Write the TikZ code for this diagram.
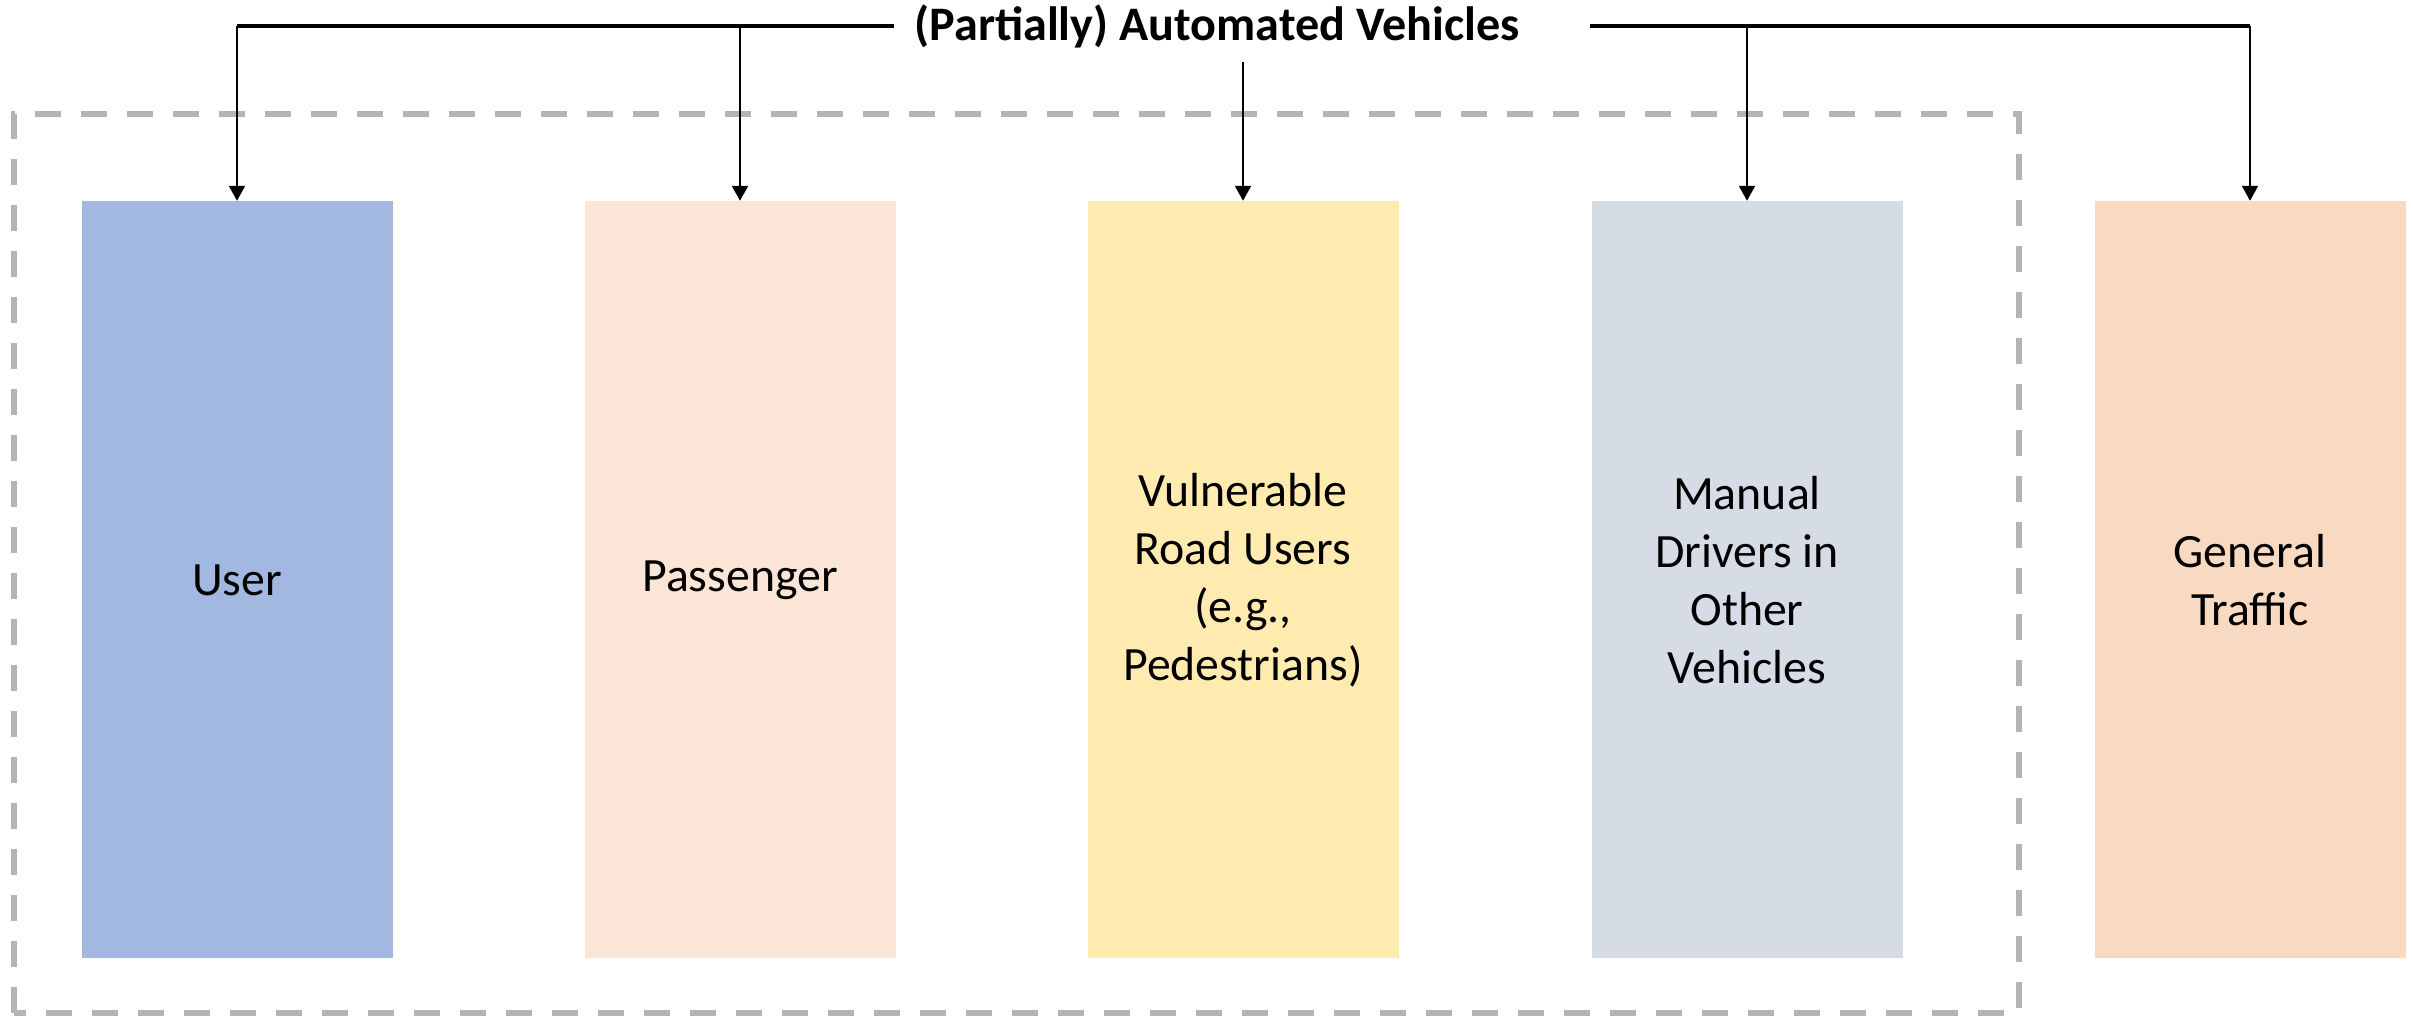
\documentclass[tikz,border=0pt]{standalone}
\usepackage{fontspec}
\setmainfont{Carlito}
\definecolor{userblue}{HTML}{A2B8E0}
\definecolor{passpeach}{HTML}{FBE5D6}
\definecolor{vruyellow}{HTML}{FFEBB0}
\definecolor{manualgray}{HTML}{D6DCE5}
\definecolor{trafficpeach}{HTML}{F8D9C2}
\definecolor{dashgray}{HTML}{B4B4B4}
\usetikzlibrary{arrows.meta, positioning, calc}

\begin{document}
\begin{tikzpicture}[
  actor/.style={minimum width=3.11cm, minimum height=7.57cm, align=center, inner sep=0pt, font=\fontsize{13.6}{16.5}\selectfont},
  hline/.style={line width=0.9pt},
  feed/.style={line width=0.6pt, -{Triangle[length=1.5mm, width=1.6mm]}}
]
  \useasboundingbox (0,0) rectangle (24.13,10.17);

  % dashed frame round the four directly addressed groups
  \draw[dashgray, line width=1.7pt, dash pattern=on 0.26cm off 0.2cm] (0.14,0.04) rectangle (20.19,9.03);

  \node[actor, fill=userblue] (user) at (2.37, 4.37) {User};
  \node[actor, fill=passpeach] (passenger) at (7.40, 4.37) {Passenger};
  \node[actor, fill=vruyellow] (vru) at (12.43, 4.37) {Vulnerable\\Road Users\\(e.g.,\\Pedestrians)};
  \node[actor, fill=manualgray] (manual) at (17.47, 4.37) {Manual\\Drivers in\\Other\\Vehicles};
  \node[actor, fill=trafficpeach] (traffic) at (22.50, 4.37) {General\\Traffic};

  \node[font=\fontsize{13.7}{16.5}\selectfont\bfseries, inner xsep=0.2cm, inner ysep=0.14cm] (av) at (12.17, 9.91) {(Partially) Automated Vehicles};
  \coordinate (avright) at ($(av.east)+(0.5,0)$);

  \draw[hline] (av.west) -- (av.west -| user.north);
  \draw[hline] (avright) -- (avright -| traffic.north);
  \draw[feed] (av.west -| user.north) -- (user.north);
  \draw[feed] (av.west -| passenger.north) -- (passenger.north);
  \draw[feed] (av.south -| vru.north) -- (vru.north);
  \draw[feed] (avright -| manual.north) -- (manual.north);
  \draw[feed] (avright -| traffic.north) -- (traffic.north);
\end{tikzpicture}
\end{document}
